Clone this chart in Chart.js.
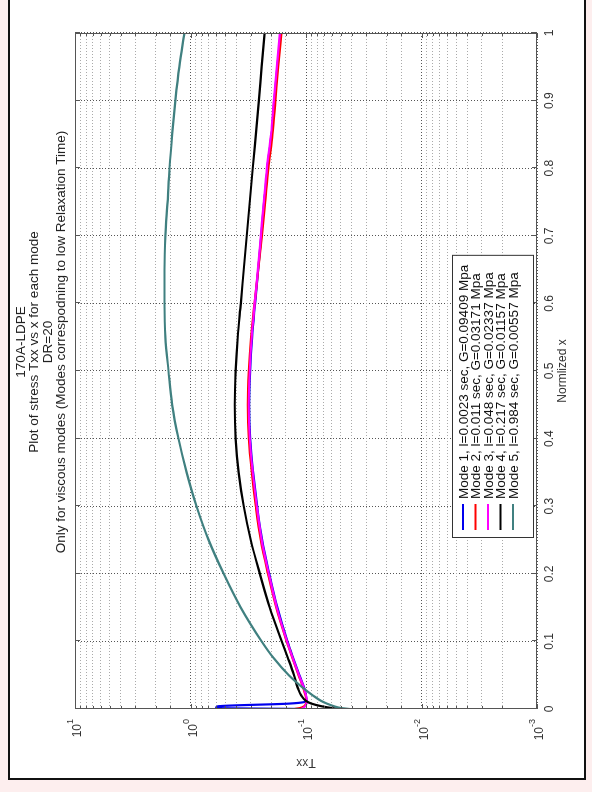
<!doctype html>
<html lang="en">
<head>
<meta charset="UTF-8" />
<title>170A-LDPE Txx vs x</title>
<script src="https://cdn.jsdelivr.net/npm/chart.js"></script>
<style>
  html, body { margin: 0; padding: 0; width: 592px; height: 792px; overflow: hidden; background: #fdeeee; }
  /* the MATLAB figure is turned a quarter turn, so the whole chart is drawn flat and rotated */
  #wrap { position: absolute; left: 0; top: 792px; width: 792px; height: 592px; transform-origin: 0 0; transform: rotate(-90deg); }
  #frame { position: absolute; left: 12px; top: 8px; width: 800px; height: 578px; border: 2px solid #111; background: #fff; box-sizing: border-box; }
  #chart { position: absolute; left: 0; top: 0; }
</style>
</head>
<body>
<div id="wrap">
  <div id="frame"></div>
  <canvas id="chart" width="792" height="592"></canvas>
</div>
<script>
// normalized x positions
const normX = [0, 0.0015, 0.004, 0.008, 0.012, 0.02, 0.03, 0.05, 0.075, 0.1, 0.15, 0.2, 0.25, 0.3, 0.35,
  0.4, 0.45, 0.5, 0.55, 0.6, 0.65, 0.7, 0.75, 0.8, 0.85, 0.9, 0.95, 1];

const mode1 = [0.105, 0.60, 0.58, 0.14, 0.099, 0.100, 0.103, 0.114, 0.129, 0.145, 0.177, 0.208, 0.240, 0.265, 0.287,
  0.305, 0.311, 0.305, 0.293, 0.276, 0.259, 0.244, 0.230, 0.216, 0.199, 0.188, 0.177, 0.166];
const mode2 = [0.125, 0.112, 0.104, 0.100, 0.099, 0.101, 0.105, 0.116, 0.131, 0.147, 0.181, 0.213, 0.246, 0.272, 0.295,
  0.313, 0.319, 0.313, 0.299, 0.279, 0.259, 0.241, 0.226, 0.212, 0.195, 0.184, 0.174, 0.163];
const mode3 = [0.110, 0.106, 0.102, 0.099, 0.098, 0.100, 0.104, 0.115, 0.130, 0.146, 0.179, 0.210, 0.242, 0.267, 0.289,
  0.307, 0.313, 0.307, 0.295, 0.278, 0.261, 0.246, 0.232, 0.218, 0.201, 0.190, 0.179, 0.168];
const mode4 = [0.050, 0.060, 0.073, 0.090, 0.100, 0.110, 0.117, 0.127, 0.143, 0.162, 0.206, 0.251, 0.301, 0.346, 0.383,
  0.406, 0.414, 0.406, 0.390, 0.367, 0.346, 0.326, 0.307, 0.289, 0.272, 0.256, 0.242, 0.228];
const mode5 = [0.042, 0.050, 0.057, 0.066, 0.074, 0.087, 0.104, 0.141, 0.190, 0.242, 0.367, 0.516, 0.697, 0.887, 1.08,
  1.27, 1.44, 1.55, 1.65, 1.68, 1.68, 1.65, 1.58, 1.52, 1.44, 1.35, 1.25, 1.13];

const modeLabels = [
  "Mode 1, l=0.0023 sec, G=0.09409 Mpa",
  "Mode 2, l=0.011 sec, G=0.03171 Mpa",
  "Mode 3, l=0.048 sec, G=0.02337 Mpa",
  "Mode 4, l=0.217 sec, G=0.01157 Mpa",
  "Mode 5, l=0.984 sec, G=0.00557 Mpa",
];
const modeColors = ["#0000ee", "#ff0000", "#ff00ff", "#000000", "#408080"];

const yTickValues = [10, 1, 0.1, 0.01, 0.001];
const yTickExps = ["1", "0", "-1", "-2", "-3"];

const titleLines = [
  "170A-LDPE",
  "Plot of stress Txx vs x for each mode",
  "DR=20",
  "Only for viscous modes (Modes correspodning to low Relaxation Time)",
];
const xTitle = "Normlized x";
const yTitle = "Txx";

const FONT = "Liberation Sans, Arial, sans-serif";

const allModes = [mode1, mode2, mode3, mode4, mode5];
const datasets = allModes.map((vals, i) => ({
  label: modeLabels[i],
  data: normX.map((x, j) => ({ x: x, y: vals[j] })),
  borderColor: modeColors[i],
  borderWidth: 2.2,
  pointRadius: 0,
  fill: false,
  cubicInterpolationMode: "monotone",
  order: allModes.length - i, // later modes on top, like MATLAB
}));

function isDecade(v) {
  const l = Math.log10(v);
  return Math.abs(l - Math.round(l)) < 1e-6;
}

const decor = {
  id: "decor",
  afterDatasetsDraw(chart) {
    const { ctx, chartArea: a, scales } = chart;
    const x = scales.x, y = scales.y;
    ctx.save();
    // axes box
    ctx.strokeStyle = "#555";
    ctx.lineWidth = 1;
    ctx.strokeRect(a.left + 0.5, a.top + 0.5, a.right - a.left - 1, a.bottom - a.top - 1);
    // inward tick marks on all four sides
    ctx.beginPath();
    x.ticks.forEach(t => {
      const px = Math.round(x.getPixelForValue(t.value)) + 0.5;
      ctx.moveTo(px, a.top); ctx.lineTo(px, a.top + 5);
      ctx.moveTo(px, a.bottom); ctx.lineTo(px, a.bottom - 5);
    });
    y.ticks.forEach(t => {
      const py = Math.round(y.getPixelForValue(t.value)) + 0.5;
      const len = isDecade(t.value) ? 5 : 3;
      ctx.moveTo(a.left, py); ctx.lineTo(a.left + len, py);
      ctx.moveTo(a.right, py); ctx.lineTo(a.right - len, py);
    });
    ctx.stroke();

    // legend box
    ctx.font = "13.5px " + FONT;
    const textW = Math.max(...modeLabels.map(s => ctx.measureText(s).width));
    const lx = a.left + 171, ly = a.top + 377;
    const lw = 40 + textW + 8, lh = 81;
    ctx.fillStyle = "#fff";
    ctx.fillRect(lx, ly, lw, lh);
    ctx.strokeStyle = "#333";
    ctx.strokeRect(lx + 0.5, ly + 0.5, lw, lh);
    ctx.textBaseline = "middle";
    ctx.textAlign = "left";
    modeLabels.forEach((s, i) => {
      const cy = ly + 11 + i * 12.5;
      ctx.strokeStyle = modeColors[i];
      ctx.lineWidth = 2;
      ctx.beginPath();
      ctx.moveTo(lx + 8, cy); ctx.lineTo(lx + 34, cy);
      ctx.stroke();
      ctx.fillStyle = "#111";
      ctx.fillText(s, lx + 39, cy + 1);
    });
    ctx.restore();
  },
  afterDraw(chart) {
    const { ctx, chartArea: a, scales } = chart;
    const y = scales.y;
    ctx.save();
    ctx.fillStyle = "#222";
    ctx.textBaseline = "middle";
    // titles
    ctx.font = "13.5px " + FONT;
    ctx.textAlign = "center";
    const cx = (a.left + a.right) / 2 + 29;
    titleLines.forEach((s, i) => ctx.fillText(s, cx, 21 + i * 13.5));

    // log axis labels 10^n
    ctx.fillStyle = "#333";
    yTickValues.forEach((v, i) => {
      const py = y.getPixelForValue(v);
      ctx.font = "9px " + FONT;
      const w2 = ctx.measureText(yTickExps[i]).width;
      ctx.font = "12px " + FONT;
      const w1 = ctx.measureText("10").width;
      const right = a.left - 10;
      ctx.textAlign = "left";
      ctx.fillText("10", right - w2 - w1, py + 3);
      ctx.font = "9px " + FONT;
      ctx.fillText(yTickExps[i], right - w2, py - 4);
    });

    // axis titles
    ctx.font = "12px " + FONT;
    ctx.textAlign = "center";
    ctx.fillText(xTitle, (a.left + a.right) / 2, a.bottom + 26);
    ctx.save();
    ctx.translate(30, (a.top + a.bottom) / 2);
    ctx.rotate(-Math.PI / 2);
    ctx.fillText(yTitle, 0, 0);
    ctx.restore();
    ctx.restore();
  },
};

new Chart(document.getElementById("chart"), {
  type: "line",
  data: { datasets: datasets },
  options: {
    responsive: false,
    animation: false,
    layout: { autoPadding: false, padding: { left: 0, right: 33, top: 75, bottom: 0 } },
    plugins: { legend: { display: false }, title: { display: false }, tooltip: { enabled: false } },
    scales: {
      x: {
        type: "linear",
        min: 0,
        max: 1,
        afterFit: s => { s.height = 55; },
        border: { display: false, dash: [1, 2] },
        grid: { color: "#555", lineWidth: 1, drawTicks: false },
        ticks: {
          stepSize: 0.1,
          padding: 5,
          maxRotation: 0,
          color: "#333",
          font: { family: FONT, size: 12 },
          callback: v => String(Number(v.toFixed(1))),
        },
      },
      y: {
        type: "logarithmic",
        min: 0.001,
        max: 10,
        afterFit: s => { s.width = 83; },
        border: { display: false, dash: [1, 2] },
        grid: {
          color: c => (c.tick && isDecade(c.tick.value) ? "#555" : "#aaa"),
          lineWidth: 1,
          drawTicks: false,
        },
        ticks: { autoSkip: false, callback: () => "" },
      },
    },
  },
  plugins: [decor],
});
</script>
</body>
</html>
